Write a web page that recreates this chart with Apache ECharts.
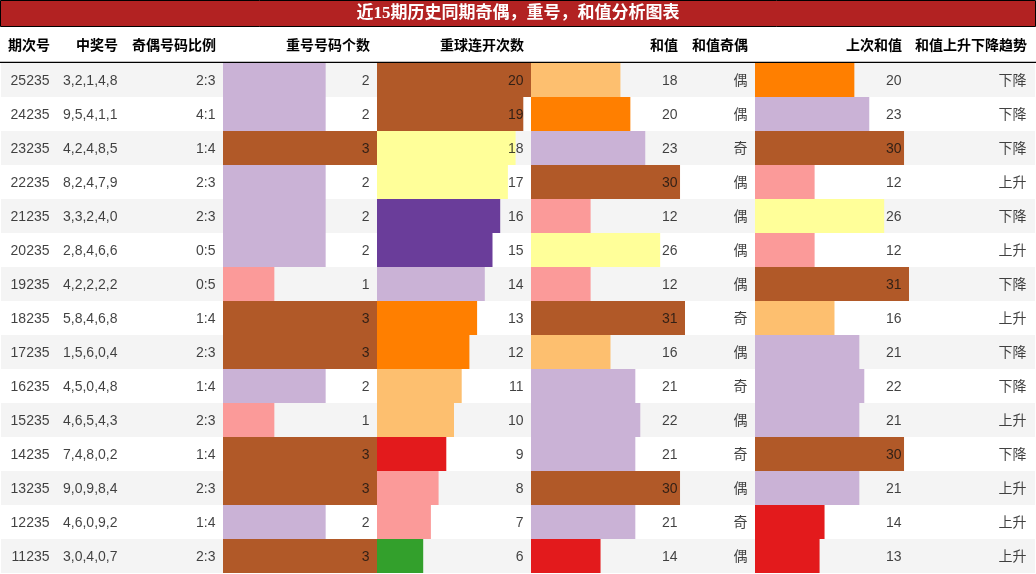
<!DOCTYPE html>
<html>
<head>
<meta charset="utf-8">
<script src="https://cdn.jsdelivr.net/npm/echarts@6/dist/echarts.min.js"></script>
<style>
  html, body { margin: 0; padding: 0; background: #fff; }
  #chart { width: 1036px; height: 574px; }
</style>
</head>
<body>
<div id="chart"></div>
<script>
const titleText = '近15期历史同期奇偶，重号，和值分析图表';
const headers = ['期次号', '中奖号', '奇偶号码比例', '重号号码个数', '重球连开次数', '和值', '和值奇偶', '上次和值', '和值上升下降趋势'];
const periods = ['25235', '24235', '23235', '22235', '21235', '20235', '19235', '18235', '17235', '16235', '15235', '14235', '13235', '12235', '11235'];
const numbers = ['3,2,1,4,8', '9,5,4,1,1', '4,2,4,8,5', '8,2,4,7,9', '3,3,2,4,0', '2,8,4,6,6', '4,2,2,2,2', '5,8,4,6,8', '1,5,6,0,4', '4,5,0,4,8', '4,6,5,4,3', '7,4,8,0,2', '9,0,9,8,4', '4,6,0,9,2', '3,0,4,0,7'];
const oddEvenRatio = ['2:3', '4:1', '1:4', '2:3', '2:3', '0:5', '0:5', '1:4', '2:3', '1:4', '2:3', '1:4', '2:3', '1:4', '2:3'];
const repeatCount = [2, 2, 3, 2, 2, 2, 1, 3, 3, 2, 1, 3, 3, 2, 3];
const repeatStreak = [20, 19, 18, 17, 16, 15, 14, 13, 12, 11, 10, 9, 8, 7, 6];
const sumValues = [18, 20, 23, 30, 12, 26, 12, 31, 16, 21, 22, 21, 30, 21, 14];
const sumParity = ['偶', '偶', '奇', '偶', '偶', '偶', '偶', '奇', '偶', '奇', '偶', '奇', '偶', '奇', '偶'];
const prevSum = [20, 23, 30, 12, 26, 12, 31, 16, 21, 22, 21, 30, 21, 14, 13];
const trend = ['下降', '下降', '下降', '上升', '下降', '上升', '下降', '上升', '下降', '下降', '上升', '下降', '上升', '上升', '上升'];

const palette = ['#a6cee3', '#1f78b4', '#b2df8a', '#33a02c', '#fb9a99', '#e31a1c', '#fdbf6f', '#ff7f00', '#cab2d6', '#6a3d9a', '#ffff99', '#b15928'];
const BODY_FONT = "'Liberation Sans', 'Noto Sans CJK SC', sans-serif";
const TOP = 63, ROW_H = 34, N = periods.length;
const GRID_H = ROW_H * N;

// right edges of the text in each column (pixels)
const colRight = [50, 118, 216, 370, 524, 678, 748, 902, 1027];
// bar columns: [left, width, max, values]
const barCols = [
  [223, 154, Math.max(...repeatCount), repeatCount],
  [377, 154, Math.max(...repeatStreak), repeatStreak],
  [531, 154, Math.max(...sumValues, ...prevSum), sumValues],
  [755, 154, Math.max(...sumValues, ...prevSum), prevSum]
];

function colorFor(v, max) {
  return palette[Math.min(11, Math.floor(v / max * 12))];
}

const grid = [{ left: 1, top: TOP, width: 1034, height: GRID_H }];
const xAxis = [{ type: 'value', gridIndex: 0, min: 1, max: 1035, show: false }];
const yAxis = [{
  type: 'category', gridIndex: 0, data: periods, inverse: true,
  axisLine: { show: false }, axisTick: { show: false }, axisLabel: { show: false },
  splitLine: { show: false },
  splitArea: { show: true, areaStyle: { color: ['#f4f4f4', '#ffffff'] } }
}];
const series = [];

barCols.forEach((c, k) => {
  const gi = k + 1;
  grid.push({ left: c[0], top: TOP, width: c[1], height: GRID_H });
  xAxis.push({ type: 'value', gridIndex: gi, min: 0, max: c[2], show: false });
  yAxis.push({ type: 'category', gridIndex: gi, data: periods, inverse: true, show: false });
  series.push({
    type: 'bar', xAxisIndex: gi, yAxisIndex: gi, data: c[3],
    barCategoryGap: '0%', barGap: '0%', z: 2,
    itemStyle: { color: p => colorFor(p.value, c[2]) }
  });
});

function textColumn(colIdx, values) {
  series.push({
    type: 'scatter', xAxisIndex: 0, yAxisIndex: 0, z: 10,
    symbolSize: 1, itemStyle: { color: 'transparent' },
    data: values.map((v, i) => [colRight[colIdx], i, v]),
    encode: { x: 0, y: 1 },
    label: {
      show: true, position: 'left', distance: 0, offset: [0, 1],
      formatter: p => String(p.value[2]),
      color: '#111', fontSize: 14, fontFamily: BODY_FONT
    },
    silent: true
  });
}
textColumn(0, periods);
textColumn(1, numbers);
textColumn(2, oddEvenRatio);
textColumn(3, repeatCount);
textColumn(4, repeatStreak);
textColumn(5, sumValues);
textColumn(6, sumParity);
textColumn(7, prevSum);
textColumn(8, trend);

const graphic = [
  { type: 'rect', shape: { x: 0.5, y: 0.5, width: 1035, height: 26 }, style: { fill: '#b22222', stroke: '#000', lineWidth: 1 }, z: 100 },
  { type: 'text', x: 518, y: 14, z: 101, style: { text: titleText, fill: '#fff', font: "bold 17px 'Liberation Serif', 'Noto Sans CJK SC', serif", textAlign: 'center', textVerticalAlign: 'middle' } },
  { type: 'rect', shape: { x: 0, y: 61.7, width: 1036, height: 1.3 }, style: { fill: '#000' }, z: 100 }
];
headers.forEach((h, i) => {
  graphic.push({ type: 'text', x: colRight[i], y: 46, z: 101, style: { text: h, fill: '#000', font: "bold 14px 'Liberation Sans', 'Noto Sans CJK SC', sans-serif", textAlign: 'right', textVerticalAlign: 'middle' } });
});

const chart = echarts.init(document.getElementById('chart'));
chart.setOption({ animation: false, backgroundColor: '#fff', grid, xAxis, yAxis, series, graphic });
</script>
</body>
</html>
